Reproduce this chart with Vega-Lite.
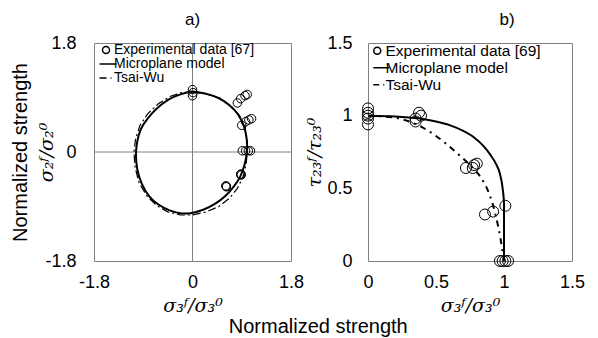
{
  "$schema": "https://vega.github.io/schema/vega-lite/v6.json",
  "background": "white",
  "padding": {"left": 9, "top": 10, "right": 5, "bottom": 0},
  "bounds": "flush",
  "spacing": 77,
  "resolve": {"scale": {"shape": "independent"}, "legend": {"shape": "independent"}},
  "config": {
    "font": "Liberation Sans",
    "view": {"stroke": "#808080", "strokeWidth": 1},
    "axis": {
      "grid": false, "ticks": false, "domain": false,
      "labelFont": "Liberation Sans", "labelFontSize": 18, "labelColor": "black",
      "labelFlush": false, "labelOverlap": false, "labelBound": false,
      "titleFont": "DejaVu Serif", "titleFontStyle": "italic", "titleFontWeight": "normal",
      "titleFontSize": 19, "titleColor": "black"
    },
    "legend": {
      "orient": "none", "padding": 0, "rowPadding": 0, "labelColor": "black",
      "labelFont": "Liberation Sans", "symbolStrokeColor": "black",
      "symbolFillColor": "rgba(0,0,0,0)", "symbolSize": 49, "symbolOpacity": 1,
      "labelLimit": 300, "title": null
    },
    "title": {"fontWeight": "normal", "fontSize": 17, "color": "black", "font": "Liberation Sans"}
  },
  "title": {"text": "Normalized strength", "orient": "bottom", "fontSize": 20, "anchor": "middle", "offset": 1, "dx": 21},
  "datasets": {
    "leftExp": [
      {"series": "Experimental data [67]", "x": 0, "y": 1.03},
      {"series": "Experimental data [67]", "x": 0.01, "y": 0.98},
      {"series": "Experimental data [67]", "x": 0, "y": 0.93},
      {"series": "Experimental data [67]", "x": 0.82, "y": 0.81},
      {"series": "Experimental data [67]", "x": 0.88, "y": 0.88},
      {"series": "Experimental data [67]", "x": 0.96, "y": 0.93},
      {"series": "Experimental data [67]", "x": 1.0, "y": 0.95},
      {"series": "Experimental data [67]", "x": 0.9, "y": 0.44},
      {"series": "Experimental data [67]", "x": 0.97, "y": 0.5},
      {"series": "Experimental data [67]", "x": 1.03, "y": 0.53},
      {"series": "Experimental data [67]", "x": 1.08, "y": 0.55},
      {"series": "Experimental data [67]", "x": 0.91, "y": 0.02},
      {"series": "Experimental data [67]", "x": 0.97, "y": 0.02},
      {"series": "Experimental data [67]", "x": 1.02, "y": 0.02},
      {"series": "Experimental data [67]", "x": 1.06, "y": 0.02},
      {"series": "Experimental data [67]", "x": 0.88, "y": -0.37},
      {"series": "Experimental data [67]", "x": 0.89, "y": -0.38},
      {"series": "Experimental data [67]", "x": 0.885, "y": -0.365},
      {"series": "Experimental data [67]", "x": 0.61, "y": -0.56},
      {"series": "Experimental data [67]", "x": 0.62, "y": -0.575},
      {"series": "Experimental data [67]", "x": 0.615, "y": -0.565}
    ],
    "leftMicro": [
      {"i": 0, "x": 0.0, "y": 1.0}, {"i": 1, "x": 0.25, "y": 0.97}, {"i": 2, "x": 0.48, "y": 0.9},
      {"i": 3, "x": 0.68, "y": 0.78}, {"i": 4, "x": 0.85, "y": 0.62}, {"i": 5, "x": 0.95, "y": 0.42},
      {"i": 6, "x": 1.0, "y": 0.2}, {"i": 7, "x": 1.0, "y": 0.0}, {"i": 8, "x": 0.96, "y": -0.2},
      {"i": 9, "x": 0.88, "y": -0.41}, {"i": 10, "x": 0.76, "y": -0.57}, {"i": 11, "x": 0.62, "y": -0.72},
      {"i": 12, "x": 0.42, "y": -0.86}, {"i": 13, "x": 0.2, "y": -0.96}, {"i": 14, "x": -0.05, "y": -1.02},
      {"i": 15, "x": -0.22, "y": -1.02}, {"i": 16, "x": -0.42, "y": -0.97}, {"i": 17, "x": -0.62, "y": -0.88},
      {"i": 18, "x": -0.8, "y": -0.74}, {"i": 19, "x": -0.94, "y": -0.52}, {"i": 20, "x": -1.02, "y": -0.28},
      {"i": 21, "x": -1.04, "y": -0.05}, {"i": 22, "x": -1.02, "y": 0.15}, {"i": 23, "x": -0.96, "y": 0.38},
      {"i": 24, "x": -0.82, "y": 0.56}, {"i": 25, "x": -0.66, "y": 0.72}, {"i": 26, "x": -0.45, "y": 0.87},
      {"i": 27, "x": -0.22, "y": 0.96}, {"i": 28, "x": 0.0, "y": 1.0}
    ],
    "leftTsai": [
      {"i": 0, "x": 0.0, "y": 0.99}, {"i": 1, "x": 0.25, "y": 0.96}, {"i": 2, "x": 0.5, "y": 0.89},
      {"i": 3, "x": 0.7, "y": 0.76}, {"i": 4, "x": 0.86, "y": 0.6}, {"i": 5, "x": 0.96, "y": 0.4},
      {"i": 6, "x": 1.0, "y": 0.2}, {"i": 7, "x": 1.0, "y": 0.0}, {"i": 8, "x": 0.98, "y": -0.2},
      {"i": 9, "x": 0.92, "y": -0.42}, {"i": 10, "x": 0.82, "y": -0.6}, {"i": 11, "x": 0.68, "y": -0.76},
      {"i": 12, "x": 0.48, "y": -0.9}, {"i": 13, "x": 0.25, "y": -0.99}, {"i": 14, "x": 0.0, "y": -1.04},
      {"i": 15, "x": -0.22, "y": -1.04}, {"i": 16, "x": -0.45, "y": -0.99}, {"i": 17, "x": -0.66, "y": -0.88},
      {"i": 18, "x": -0.84, "y": -0.72}, {"i": 19, "x": -0.98, "y": -0.5}, {"i": 20, "x": -1.05, "y": -0.25},
      {"i": 21, "x": -1.07, "y": 0.0}, {"i": 22, "x": -1.04, "y": 0.22}, {"i": 23, "x": -0.96, "y": 0.44},
      {"i": 24, "x": -0.82, "y": 0.63}, {"i": 25, "x": -0.62, "y": 0.8}, {"i": 26, "x": -0.4, "y": 0.92},
      {"i": 27, "x": -0.2, "y": 0.98}, {"i": 28, "x": 0.0, "y": 0.99}
    ],
    "axes0": [{"v": 0}],
    "rightExp": [
      {"series": "Experimental data [69]", "x": 0, "y": 1.05},
      {"series": "Experimental data [69]", "x": 0, "y": 1.02},
      {"series": "Experimental data [69]", "x": 0, "y": 1.0},
      {"series": "Experimental data [69]", "x": 0, "y": 0.98},
      {"series": "Experimental data [69]", "x": 0, "y": 0.94},
      {"series": "Experimental data [69]", "x": 0.35, "y": 0.98},
      {"series": "Experimental data [69]", "x": 0.375, "y": 1.02},
      {"series": "Experimental data [69]", "x": 0.39, "y": 1.0},
      {"series": "Experimental data [69]", "x": 0.35, "y": 0.96},
      {"series": "Experimental data [69]", "x": 0.72, "y": 0.64},
      {"series": "Experimental data [69]", "x": 0.77, "y": 0.64},
      {"series": "Experimental data [69]", "x": 0.8, "y": 0.67},
      {"series": "Experimental data [69]", "x": 0.78, "y": 0.66},
      {"series": "Experimental data [69]", "x": 0.86, "y": 0.32},
      {"series": "Experimental data [69]", "x": 0.92, "y": 0.34},
      {"series": "Experimental data [69]", "x": 1.01, "y": 0.38},
      {"series": "Experimental data [69]", "x": 0.97, "y": 0},
      {"series": "Experimental data [69]", "x": 0.99, "y": 0},
      {"series": "Experimental data [69]", "x": 1.01, "y": 0},
      {"series": "Experimental data [69]", "x": 1.03, "y": 0}
    ],
    "rightMicro": [
      {"i": 0, "x": 0, "y": 1.0}, {"i": 1, "x": 0.2, "y": 0.995}, {"i": 2, "x": 0.38, "y": 0.98},
      {"i": 3, "x": 0.5, "y": 0.96}, {"i": 4, "x": 0.6, "y": 0.935}, {"i": 5, "x": 0.7, "y": 0.895},
      {"i": 6, "x": 0.78, "y": 0.85}, {"i": 7, "x": 0.85, "y": 0.79}, {"i": 8, "x": 0.9, "y": 0.73},
      {"i": 9, "x": 0.94, "y": 0.67}, {"i": 10, "x": 0.97, "y": 0.6}, {"i": 11, "x": 0.99, "y": 0.5},
      {"i": 12, "x": 1.0, "y": 0.4}, {"i": 13, "x": 1.0, "y": 0.2}, {"i": 14, "x": 1.0, "y": 0.0}
    ],
    "rightTsai": [
      {"i": 0, "x": 0, "y": 1.0}, {"i": 1, "x": 0.1, "y": 0.995}, {"i": 2, "x": 0.23, "y": 0.98},
      {"i": 3, "x": 0.4, "y": 0.92}, {"i": 4, "x": 0.57, "y": 0.81}, {"i": 5, "x": 0.67, "y": 0.73},
      {"i": 6, "x": 0.76, "y": 0.65}, {"i": 7, "x": 0.84, "y": 0.56}, {"i": 8, "x": 0.9, "y": 0.44},
      {"i": 9, "x": 0.94, "y": 0.31}, {"i": 10, "x": 0.975, "y": 0.15}, {"i": 11, "x": 1.0, "y": 0.0}
    ]
  },
  "hconcat": [
    {
      "title": {"text": "a)", "offset": 5, "dx": 0},
      "width": 197,
      "height": 218,
      "resolve": {"scale": {"y": "independent"}},
      "layer": [
        {
          "data": {"name": "axes0"},
          "layer": [
            {"mark": {"type": "rule", "color": "#808080", "strokeWidth": 1},
             "encoding": {"x": {"field": "v", "type": "quantitative"}}},
            {"mark": {"type": "rule", "color": "#808080", "strokeWidth": 1},
             "encoding": {"y": {"field": "v", "type": "quantitative",
               "scale": {"domain": [-1.8, 1.8], "nice": false, "zero": false},
               "axis": {"orient": "left", "offset": 64, "labels": false, "title": "Normalized strength",
                 "titleFont": "Liberation Sans", "titleFontStyle": "normal", "titleFontSize": 20, "titlePadding": 0}}}}
          ]
        },
        {
          "layer": [
            {
              "data": {"name": "leftTsai"},
              "mark": {"type": "line", "color": "black", "strokeWidth": 1.2, "strokeDash": [8, 3, 2, 3]},
              "encoding": {
                "x": {"field": "x", "type": "quantitative"},
                "y": {"field": "y", "type": "quantitative"},
                "order": {"field": "i", "type": "quantitative"}
              }
            },
            {
              "data": {"name": "leftMicro"},
              "mark": {"type": "line", "color": "black", "strokeWidth": 2, "interpolate": "basis"},
              "encoding": {
                "x": {"field": "x", "type": "quantitative"},
                "y": {"field": "y", "type": "quantitative"},
                "order": {"field": "i", "type": "quantitative"}
              }
            },
            {
              "data": {"name": "leftExp"},
              "mark": {"type": "point", "filled": false, "stroke": "black", "strokeWidth": 1, "size": 72, "opacity": 1},
              "encoding": {
                "x": {"field": "x", "type": "quantitative",
                  "scale": {"domain": [-1.8, 1.8], "nice": false, "zero": false},
                  "axis": {"values": [-1.8, 0, 1.8], "labelExpr": "toString(datum.value)", "labelPadding": 12,
                    "title": "σ₃ᶠ/σ₃⁰", "titlePadding": 5}},
                "y": {"field": "y", "type": "quantitative",
                  "scale": {"domain": [-1.8, 1.8], "nice": false, "zero": false},
                  "axis": {"orient": "left", "values": [-1.8, 0, 1.8], "labelExpr": "toString(datum.value)", "labelPadding": 18,
                    "title": "σ₂ᶠ/σ₂⁰", "titlePadding": -12}},
                "shape": {"field": "series", "type": "nominal",
                  "scale": {"domain": ["Experimental data [67]", "Microplane model", "Tsai-Wu"],
                    "range": ["M-1,0A1,1 0 1,1 1,0A1,1 0 1,1 -1,0Z", "M-1.86,0H3", "M-1.86,0H0.14M1.29,0H1.57"]},
                  "legend": {"legendX": 5, "legendY": 0, "labelFontSize": 14, "labelOffset": 1,
                    "encode": {"symbols": {"update": {"strokeWidth": {"signal": "datum.value === 'Microplane model' ? 2 : 1.1"}}}}}}
              }
            }
          ]
        }
      ]
    },
    {
      "title": {"text": "b)", "offset": 5, "dx": 37},
      "width": 204,
      "height": 218,
      "layer": [
        {
          "data": {"name": "rightTsai"},
          "mark": {"type": "line", "color": "black", "strokeWidth": 2, "strokeDash": [6, 5, 2, 5], "interpolate": "monotone"},
          "encoding": {
            "x": {"field": "x", "type": "quantitative"},
            "y": {"field": "y", "type": "quantitative"},
            "order": {"field": "i", "type": "quantitative"}
          }
        },
        {
          "data": {"name": "rightMicro"},
          "mark": {"type": "line", "color": "black", "strokeWidth": 2, "interpolate": "monotone"},
          "encoding": {
            "x": {"field": "x", "type": "quantitative"},
            "y": {"field": "y", "type": "quantitative"},
            "order": {"field": "i", "type": "quantitative"}
          }
        },
        {
          "data": {"name": "rightExp"},
          "mark": {"type": "point", "filled": false, "stroke": "black", "strokeWidth": 1, "size": 121, "opacity": 1},
          "encoding": {
            "x": {"field": "x", "type": "quantitative",
              "scale": {"domain": [0, 1.5], "nice": false},
              "axis": {"values": [0, 0.5, 1, 1.5], "labelExpr": "toString(datum.value)", "labelPadding": 12,
                "title": "σ₃ᶠ/σ₃⁰", "titlePadding": 5}},
            "y": {"field": "y", "type": "quantitative",
              "scale": {"domain": [0, 1.5], "nice": false},
              "axis": {"values": [0, 0.5, 1, 1.5], "labelExpr": "toString(datum.value)", "labelPadding": 16,
                "title": "τ₂₃ᶠ/τ₂₃⁰", "titlePadding": 2}},
            "shape": {"field": "series", "type": "nominal",
              "scale": {"domain": ["Experimental data [69]", "Microplane model", "Tsai-Wu"],
                "range": ["M-1,0A1,1 0 1,1 1,0A1,1 0 1,1 -1,0Z", "M-1.14,0H3.43", "M-1.14,0H0.57M1.71,0H2"]},
              "legend": {"legendX": 1.5, "legendY": 0, "labelFontSize": 15.5, "labelOffset": 0.5,
                "encode": {"symbols": {"update": {"strokeWidth": {"signal": "datum.value === 'Microplane model' ? 2 : 1.1"}}}}}}
          }
        }
      ]
    }
  ]
}
